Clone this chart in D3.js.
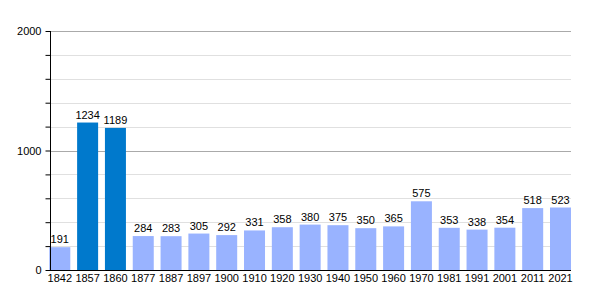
<!DOCTYPE html>
<html>
<head>
<script src="https://d3js.org/d3.v7.min.js"></script>
<style>
body { margin: 0; background: #fff; }
text { font-family: "Liberation Sans", Arial, sans-serif; font-size: 11px; fill: #000; }
</style>
</head>
<body>
<script>
// data
var years = ["1842","1857","1860","1877","1887","1897","1900","1910","1920","1930",
             "1940","1950","1960","1970","1981","1991","2001","2011","2021"];
var population = [191,1234,1189,284,283,305,292,331,358,380,375,350,365,575,353,338,354,518,523];
var highlight = ["1857","1860"];
var majorTicks = [0, 1000, 2000];
var minorTicks = [200, 400, 600, 800, 1200, 1400, 1600, 1800];

var W = 600, H = 300;
var plotLeft = 50, plotRight = 571, plotTop = 31, plotBottom = 270;

var svg = d3.select("body").append("svg")
	.attr("width", W)
	.attr("height", H);

var x = d3.scaleBand()
	.domain(years)
	.range([49.3, plotRight])
	.paddingInner(0.245)
	.paddingOuter(0)
	.align(0);

var y = d3.scaleLinear().domain([0, 2000]).range([plotBottom, plotTop]);

// gridlines
svg.append("g").selectAll("line")
	.data(minorTicks)
	.enter().append("line")
	.attr("x1", plotLeft).attr("x2", plotRight)
	.attr("y1", function(d){ return Math.round(y(d)) + 0.5; })
	.attr("y2", function(d){ return Math.round(y(d)) + 0.5; })
	.attr("stroke", "#e0e0e0");

svg.append("g").selectAll("line")
	.data(majorTicks.slice(1))
	.enter().append("line")
	.attr("x1", plotLeft).attr("x2", plotRight)
	.attr("y1", function(d){ return Math.round(y(d)) + 0.5; })
	.attr("y2", function(d){ return Math.round(y(d)) + 0.5; })
	.attr("stroke", "#aaaaaa");

// bars
svg.append("g").selectAll("rect")
	.data(years)
	.enter().append("rect")
	.attr("x", function(d){ return x(d); })
	.attr("width", x.bandwidth())
	.attr("y", function(d, i){ return y(population[i]); })
	.attr("height", function(d, i){ return y(0) - y(population[i]); })
	.attr("fill", function(d){ return highlight.indexOf(d) >= 0 ? "#0079cc" : "#99b3ff"; });

// value labels
svg.append("g").selectAll("text")
	.data(years)
	.enter().append("text")
	.attr("x", function(d){ return x(d) + x.bandwidth() / 2; })
	.attr("y", function(d, i){ return y(population[i]) - 4; })
	.attr("text-anchor", "middle")
	.text(function(d, i){ return population[i]; });

// y axis
var yAxis = svg.append("g")
	.attr("transform", "translate(" + (plotLeft + 0.5) + ",0)")
	.call(d3.axisLeft(y).tickValues(majorTicks.concat(minorTicks)).tickSize(5)
		.tickFormat(function(d){ return majorTicks.indexOf(d) >= 0 ? d : ""; }));
yAxis.select(".domain").attr("stroke", "#000").attr("d", "M0," + plotTop + "V" + plotBottom);
yAxis.selectAll(".tick line").attr("stroke", "#000");
yAxis.selectAll(".tick text").attr("x", -9).attr("fill", "#000")
	.attr("font-size", null).attr("font-family", null);

// x axis
var xAxis = svg.append("g")
	.attr("transform", "translate(0," + (plotBottom + 0.5) + ")")
	.call(d3.axisBottom(x).tickSize(0).tickPadding(4));
xAxis.select(".domain").attr("stroke", "#000").attr("d", "M" + plotLeft + ",0H" + plotRight);
xAxis.selectAll(".tick text").attr("fill", "#000")
	.attr("font-size", null).attr("font-family", null);
</script>
</body>
</html>
